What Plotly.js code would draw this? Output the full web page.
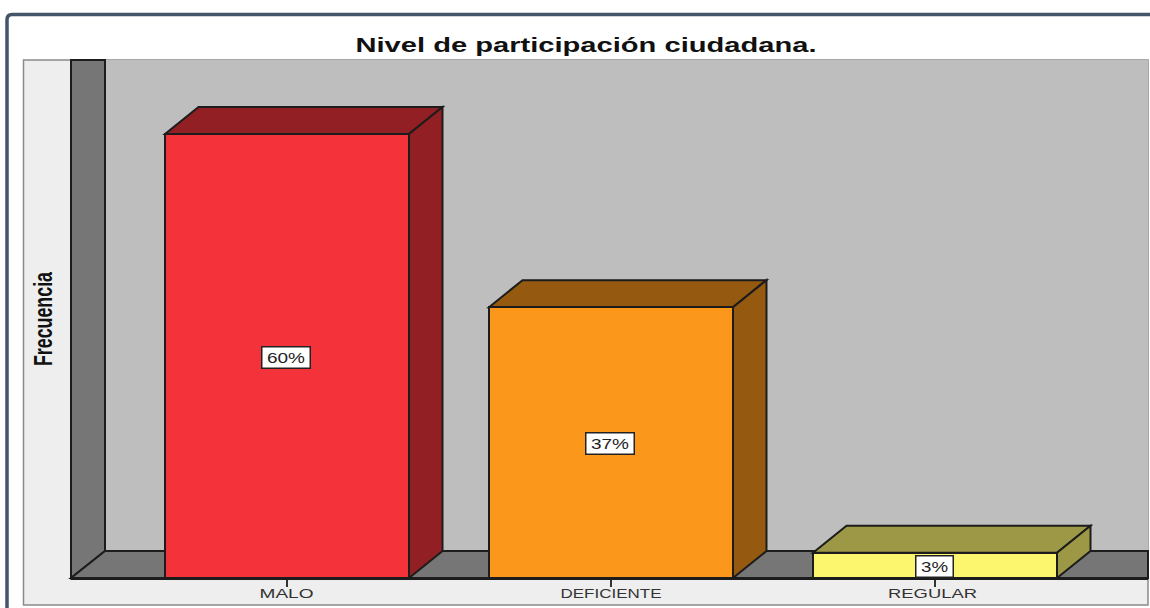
<!DOCTYPE html>
<html>
<head>
<meta charset="utf-8">
<script src="https://cdn.plot.ly/plotly-3.0.1.min.js"></script>
<style>html,body{margin:0;padding:0;background:#fff;overflow:hidden}</style>
</head>
<body>
<div id="chart" style="width:1150px;height:608px"></div>
<script>
const categories = ["MALO", "DEFICIENTE", "REGULAR"];
const positions = [0, 1, 2];
const values = [60, 36.6, 3.4];
const labels = ["60%", "37%", "3%"];
const frontColors = ["#f33339", "#fb981c", "#fbf66e"];
const topColors = ["#921f23", "#955a10", "#9c9845"];
const chartTitle = "Nivel de participación ciudadana.";
const yTitle = "Frecuencia";
const tickTextWidths = [54, 101, 89];
const tickTextShifts = [-0.5, 0, -2.5];
const labelTextWidths = [38, 38, 27];

const W = 1150, H = 608;
const M = {l: 71, r: 2, t: 60, b: 30};
const PW = W - M.l - M.r, PH = H - M.t - M.b;
const xRange = [-0.6667, 2.6574], yRange = [0, 70];
const barWidth = 0.753, depthX = 0.1034, depthY = 3.65;
const EDGE = "#1c1c1c";

const px = v => (v - M.l) / PW;
const py = v => (H - M.b - v) / PH;

function poly(pts, fill, xref, yref, lw) {
  return {
    type: "path", xref: xref || "x", yref: yref || "y", layer: "below",
    path: "M" + pts.map(p => p[0] + "," + p[1]).join(" L") + " Z",
    fillcolor: fill, line: {color: EDGE, width: lw === undefined ? 2 : lw}
  };
}

const shapes = [];
shapes.push({
  type: "path", xref: "paper", yref: "paper", layer: "below",
  path: `M${px(7)},${py(620)} L${px(7)},${py(20)} Q${px(7)},${py(14.5)} ${px(12)},${py(14.5)} L${px(1160)},${py(14.5)}`,
  fillcolor: "rgba(0,0,0,0)", line: {color: "#44546a", width: 3.5}
});
shapes.push({type: "rect", xref: "paper", yref: "paper", layer: "below",
  x0: px(23.5), x1: px(1148), y0: py(605), y1: py(60),
  fillcolor: "#eeeeee", line: {color: "#8a8a8a", width: 1.5}});
shapes.push({type: "rect", xref: "paper", yref: "paper", layer: "below",
  x0: px(105), x1: px(1148), y0: py(551), y1: py(60),
  fillcolor: "#bebebe", line: {width: 0}});
shapes.push(poly([[px(71), py(578)], [px(71), py(60)], [px(105), py(60)], [px(105), py(551)]], "#767676", "paper", "paper"));
shapes.push(poly([[px(71), py(578)], [px(105), py(551)], [px(1148), py(551)], [px(1148), py(578)]], "#767676", "paper", "paper"));

positions.forEach((c, i) => {
  const x0 = c - barWidth / 2, x1 = c + barWidth / 2, y = values[i];
  shapes.push(poly([[x0, y], [x0 + depthX, y + depthY], [x1 + depthX, y + depthY], [x1, y]], topColors[i]));
  shapes.push(poly([[x1, 0], [x1 + depthX, depthY], [x1 + depthX, y + depthY], [x1, y]], topColors[i]));
});

const annotations = positions.map((c, i) => ({
  x: c - 0.002, y: values[i] / 2, xref: "x", yref: "y", yshift: -1, text: labels[i], showarrow: false,
  font: {family: "Liberation Sans, sans-serif", size: 15, color: "#222"},
  width: labelTextWidths[i] + 7, height: 18,
  bgcolor: "#ffffff", bordercolor: "#222", borderwidth: 1.5, borderpad: 1
}));

const data = [{
  type: "bar", x: positions, y: values, width: barWidth,
  marker: {color: frontColors, line: {color: EDGE, width: 2}},
  hoverinfo: "x+y"
}];

const layout = {
  width: W, height: H,
  margin: M,
  paper_bgcolor: "#ffffff", plot_bgcolor: "rgba(0,0,0,0)",
  showlegend: false,
  title: {
    text: chartTitle, x: 586 / W, xanchor: "center", y: 1 - 45 / H, yanchor: "middle",
    font: {family: "Liberation Sans, sans-serif", size: 21, color: "#111", weight: 700}
  },
  xaxis: {
    range: xRange, tickmode: "array", tickvals: positions, ticktext: categories,
    ticks: "outside", ticklen: 7, tickwidth: 2, tickcolor: "#333",
    ticklabelstandoff: -5,
    tickfont: {family: "Liberation Sans, sans-serif", size: 13.5, color: "#333"},
    showgrid: false, zeroline: false, showline: true, linecolor: EDGE, linewidth: 2
  },
  yaxis: {
    range: yRange, showticklabels: false, ticks: "", showgrid: false, zeroline: false, showline: false,
    title: {text: yTitle, standoff: 10, font: {family: "Liberation Sans, sans-serif", size: 25, color: "#111", weight: 700}}
  },
  bargap: 0,
  shapes: shapes,
  annotations: annotations
};

function fitText(el, width) {
  if (!el) return;
  el.setAttribute("textLength", width);
  el.setAttribute("lengthAdjust", "spacingAndGlyphs");
}

Plotly.newPlot("chart", data, layout, {displayModeBar: false, responsive: false}).then(gd => {
  fitText(gd.querySelector(".gtitle"), 461);
  fitText(gd.querySelector(".ytitle"), 94);
  gd.querySelectorAll(".xtick text").forEach((el, i) => {
    fitText(el, tickTextWidths[i]);
    el.setAttribute("dx", tickTextShifts[i]);
  });
  gd.querySelectorAll(".annotation-text").forEach((el, i) => fitText(el, labelTextWidths[i]));
});
</script>
</body>
</html>
